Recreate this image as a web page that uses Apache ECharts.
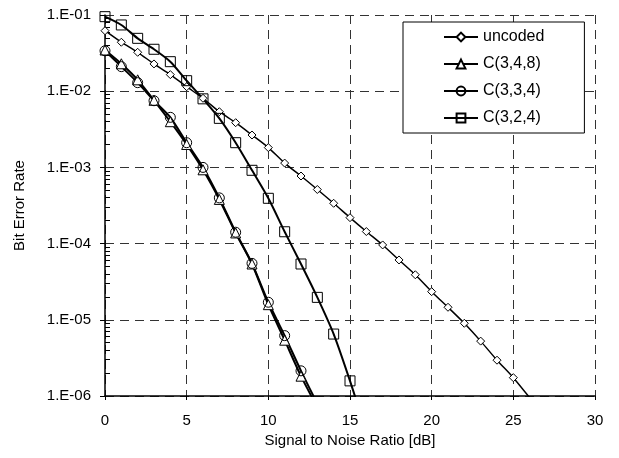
<!DOCTYPE html>
<html>
<head>
<meta charset="utf-8">
<script src="https://cdn.jsdelivr.net/npm/echarts@6/dist/echarts.min.js"></script>
<style>
  html, body { margin: 0; padding: 0; background: #fff; }
  #chart { width: 619px; height: 458px; }
</style>
</head>
<body>
<div id="chart"></div>
<script>
// SNR in dB
const snrUncoded = [0,1,2,3,4,5,6,7,8,9,10,11,12,13,14,15,16,17,18,19,20,21,22,23,24,25,26];
const berUncoded = [0.0622,0.0439,0.0324,0.0228,0.0165,0.01146,0.00807,0.00538,0.00386,0.00266,
  0.00182,0.00114,0.000771,0.000513,0.000338,0.000219,0.000144,9.6e-5,6.1e-5,3.9e-5,
  2.34e-5,1.46e-5,9.0e-6,5.25e-6,2.95e-6,1.74e-6,9.5e-7];

const snrC348 = [0,1,2,3,4,5,6,7,8,9,10,11,12,13];
const berC348 = [0.0347,0.0229,0.0141,0.0076,0.00398,0.0020,0.00093,0.00038,0.000138,5.4e-5,1.58e-5,5.4e-6,1.82e-6,7.1e-7];

const snrC334 = [0,1,2,3,4,5,6,7,8,9,10,11,12,13];
const berC334 = [0.0339,0.0210,0.01294,0.0075,0.00454,0.00211,0.0010,0.000398,0.000141,5.5e-5,1.7e-5,6.2e-6,2.14e-6,7.9e-7];

const snrC324 = [0,1,2,3,4,5,6,7,8,9,10,11,12,13,14,15,16];
const berC324 = [0.0951,0.074,0.0494,0.0355,0.0244,0.01374,0.00794,0.0044,0.00211,0.000916,
  0.000393,0.000143,5.4e-5,1.97e-5,6.5e-6,1.58e-6,3.4e-7];

const seriesNames = ['uncoded', 'C(3,4,8)', 'C(3,3,4)', 'C(3,2,4)'];
const yTickLabels = ['1.E-06','1.E-05','1.E-04','1.E-03','1.E-02','1.E-01'];

// minor ticks 2..9 of every decade (log10 positions)
let minorTicks = [];
for (let d = -6; d < -1; d++) {
  for (let k = 2; k <= 9; k++) minorTicks.push(d + Math.log10(k));
}

function pairs (xs, ys) {
  return xs.map((x, i) => [x, ys[i]]);
}

let gridBox = { left: 105, right: 24, top: 15, bottom: 62 };

let myChart = echarts.init(document.getElementById('chart'));
let font = 'Liberation Sans, Arial, sans-serif';
let lineBase = {
  type: 'line',
  smooth: 0.25,
  clip: true,
  showAllSymbol: true,
  color: '#000',
  itemStyle: { color: '#fff', borderColor: '#000', borderWidth: 1 },
  lineStyle: { color: '#000', width: 2 }
};

let option = {
  animation: false,
  backgroundColor: '#fff',
  textStyle: { fontFamily: font },
  // second grid on top of the first one, only to carry the minor ticks
  grid: [Object.assign({}, gridBox), Object.assign({}, gridBox)],
  legend: {
    orient: 'vertical',
    left: 403,
    top: 22,
    data: seriesNames,
    backgroundColor: '#fff',
    borderColor: '#000',
    borderWidth: 1,
    borderRadius: 0,
    padding: [7, 40, 7, 40],
    itemGap: 11,
    itemWidth: 34,
    itemHeight: 11,
    textStyle: { fontSize: 16, color: '#000', fontFamily: font }
  },
  xAxis: [{
    type: 'value',
    gridIndex: 0,
    min: 0,
    max: 30,
    interval: 5,
    name: 'Signal to Noise Ratio [dB]',
    nameLocation: 'middle',
    nameGap: 37,
    nameTextStyle: { fontSize: 15, color: '#000' },
    axisLine: { onZero: false, lineStyle: { color: '#000', width: 1.5 } },
    axisTick: { show: true, length: 4, lineStyle: { color: '#000' } },
    axisLabel: { fontSize: 15, color: '#000', margin: 17 },
    splitLine: { show: true, lineStyle: { color: '#333', type: [9, 6], width: 1 } }
  }, {
    type: 'value',
    gridIndex: 1,
    min: 0,
    max: 30,
    show: false
  }],
  yAxis: [{
    type: 'log',
    gridIndex: 0,
    logBase: 10,
    min: 1e-6,
    max: 1e-1,
    name: 'Bit Error Rate',
    nameLocation: 'middle',
    nameGap: 78,
    nameTextStyle: { fontSize: 15, color: '#000' },
    axisLine: { show: true, lineStyle: { color: '#000', width: 1.5 } },
    axisTick: { show: true, length: 5, lineStyle: { color: '#000' } },
    axisLabel: {
      fontSize: 15, color: '#000', margin: 14,
      formatter: v => yTickLabels[Math.round(Math.log10(v)) + 6]
    },
    splitLine: { show: true, lineStyle: { color: '#333', type: [9, 6], width: 1 } }
  }, {
    // log10 units, same span as the log axis: ticks at 2..9 of each decade
    type: 'value',
    gridIndex: 1,
    min: -6,
    max: -1,
    position: 'left',
    axisLine: { show: true, onZero: false, lineStyle: { color: 'rgba(0,0,0,0)' } },
    axisLabel: { show: true, color: 'rgba(0,0,0,0)' },
    splitLine: { show: false },
    axisTick: {
      show: true, inside: true, length: 5,
      customValues: minorTicks,
      lineStyle: { color: '#000', width: 1 }
    }
  }],
  series: [
    Object.assign({}, lineBase, {
      name: seriesNames[0], data: pairs(snrUncoded, berUncoded),
      symbol: 'diamond', symbolSize: 8, lineStyle: { color: '#000', width: 1.5 }
    }),
    Object.assign({}, lineBase, {
      name: seriesNames[1], data: pairs(snrC348, berC348),
      symbol: 'triangle', symbolSize: 10
    }),
    Object.assign({}, lineBase, {
      name: seriesNames[2], data: pairs(snrC334, berC334),
      symbol: 'circle', symbolSize: 10,
      itemStyle: { color: 'rgba(255,255,255,0)', borderColor: '#000', borderWidth: 1 }
    }),
    Object.assign({}, lineBase, {
      name: seriesNames[3], data: pairs(snrC324, berC324),
      symbol: 'rect', symbolSize: 10,
      itemStyle: { color: 'rgba(255,255,255,0)', borderColor: '#000', borderWidth: 1 }
    })
  ]
};
myChart.setOption(option);
</script>
</body>
</html>
